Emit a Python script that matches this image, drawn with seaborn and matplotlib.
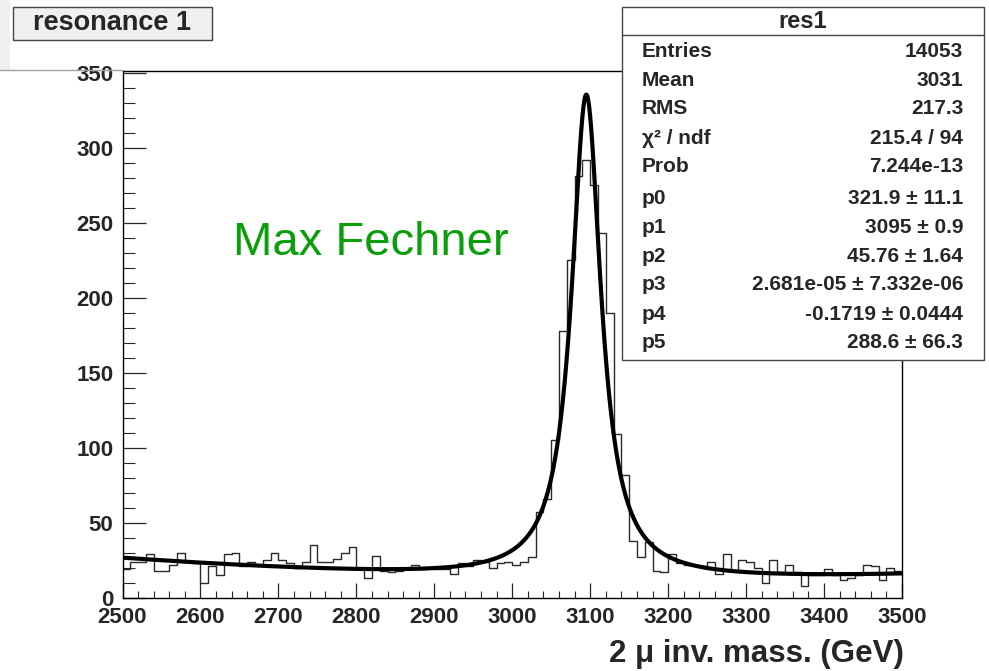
import numpy as np
import pandas as pd
import matplotlib
matplotlib.use("Agg")
import matplotlib.pyplot as plt
from matplotlib.patches import Rectangle
from matplotlib.lines import Line2D
import seaborn as sns

# ---------------- data ----------------
x_min, x_max, n_bins = 2500, 3500, 100
counts = [19, 24, 24, 29, 18, 18, 22, 30, 24, 23,
          10, 21, 15, 29, 30, 21, 24, 22, 25, 30,
          25, 23, 20, 24, 35, 24, 24, 26, 30, 34,
          19, 13, 28, 18, 17, 18, 19, 22, 19, 20,
          19, 19, 16, 23, 21, 25, 24, 20, 23, 24,
          22, 24, 27, 57, 66, 105, 178, 225, 281, 292,
          275, 243, 190, 109, 82, 38, 27, 37, 18, 17,
          29, 23, 22, 22, 21, 24, 16, 29, 18, 25,
          24, 20, 10, 25, 17, 22, 17, 8, 15, 15,
          19, 15, 12, 13, 15, 22, 21, 12, 20, 18]
# fit parameters shown in the stats box (Breit-Wigner + quadratic background)
fit_p = [321.9, 3095.0, 45.76, 2.681e-05, -0.1719, 288.6]
stat_labels = ["Entries", "Mean", "RMS", "\u03c7\u00b2 / ndf", "Prob",
               "p0", "p1", "p2", "p3", "p4", "p5"]
stat_values = ["14053", "3031", "217.3", "215.4 / 94", "7.244e-13",
               "321.9 \u00b1 11.1", "3095 \u00b1 0.9", "45.76 \u00b1 1.64",
               "2.681e-05 \u00b1 7.332e-06", "-0.1719 \u00b1 0.0444",
               "288.6 \u00b1 66.3"]
x_ticks = list(range(2500, 3501, 100))
y_ticks = list(range(0, 351, 50))

# ---------------- styling ----------------
sns.set_style("white")
plt.rcParams["font.family"] = ["Liberation Sans", "DejaVu Sans"]

W, H = 989, 671
fig = plt.figure(figsize=(W / 100, H / 100), dpi=100)
fig.patch.set_facecolor("white")

def fx(px):
    return px / W

def fy(py):
    return 1 - py / H

ax_l, ax_r, ax_t, ax_b = 122.5, 902, 71, 598
ax = fig.add_axes([fx(ax_l), fy(ax_b), (ax_r - ax_l) / W, (ax_b - ax_t) / H])
ax.set_facecolor("white")

bw = (x_max - x_min) / n_bins
centers = x_min + bw * (np.arange(n_bins) + 0.5)
df = pd.DataFrame({"mass": centers, "n": counts})
sns.histplot(data=df, x="mass", weights="n", bins=n_bins, binrange=(x_min, x_max),
             element="step", fill=False, color="#2a2a2a", linewidth=1.0, ax=ax)

xf = np.linspace(x_min, x_max, 3001)
p0, p1, p2, p3, p4, p5 = fit_p
hw = p2 / 2.0
yf = p0 * hw ** 2 / ((xf - p1) ** 2 + hw ** 2) + p3 * xf ** 2 + p4 * xf + p5
sns.lineplot(x=xf, y=yf, color="black", linewidth=3.0, ax=ax, zorder=5)

ax.set_xlim(x_min, x_max)
ax.set_ylim(0, 351)
ax.set_xticks(x_ticks)
ax.set_yticks(y_ticks)
ax.set_xticks(np.arange(x_min, x_max + 1, 20), minor=True)
ax.set_yticks(np.arange(0, 351, 10), minor=True)
ax.set_xlabel("")
ax.set_ylabel("")
for s in ax.spines.values():
    s.set_color("black")
    s.set_linewidth(1.0)
    s.set_visible(True)
ax.tick_params(axis="x", which="major", direction="in", length=10.8, width=0.9,
               pad=6.5, bottom=True, top=False)
ax.tick_params(axis="x", which="minor", direction="in", length=5.3, width=0.8,
               bottom=True, top=False)
ax.tick_params(axis="y", which="major", direction="in", length=16.5, width=0.9,
               pad=6.5, left=True, right=False)
ax.tick_params(axis="y", which="minor", direction="in", length=8.5, width=0.8,
               left=True, right=False)
ax.set_xticklabels([str(t) for t in x_ticks], fontweight="bold", fontsize=16)
ax.set_yticklabels([str(t) for t in y_ticks], fontweight="bold", fontsize=16)

# x-axis title
fig.text(fx(904), fy(654), "2 \u03bc inv. mass. (GeV)", ha="right", va="center",
         fontsize=22.5, fontweight="bold")

# green annotation
fig.text(fx(233), fy(255), "Max Fechner", ha="left", va="baseline",
         fontsize=34, color="#0a9e0a")

# top-left decoration
fig.patches.append(Rectangle((0, fy(70)), fx(10), 70 / H, transform=fig.transFigure,
                             facecolor="#f0f0f0", edgecolor="none", zorder=0))
fig.lines.append(Line2D([0, fx(122)], [fy(70), fy(70)], transform=fig.transFigure,
                        color="#a0a0a0", linewidth=1.0))

# title box
fig.patches.append(Rectangle((fx(12.7), fy(40)), (212 - 12.7) / W, (40 - 6.7) / H,
                             transform=fig.transFigure, facecolor="#f0f0f0",
                             edgecolor="#444444", linewidth=1.0, zorder=2))
fig.text(fx(112.3), fy(23.5), "resonance 1", ha="center", va="center",
         fontsize=19.5, fontweight="bold", zorder=4)

# stats box
sb_l, sb_r, sb_t, sb_b = 622, 984, 6.7, 360
fig.patches.append(Rectangle((fx(sb_l), fy(sb_b)), (sb_r - sb_l) / W, (sb_b - sb_t) / H,
                             transform=fig.transFigure, facecolor="white",
                             edgecolor="#444444", linewidth=1.0, zorder=2))
fig.lines.append(Line2D([fx(sb_l), fx(sb_r)], [fy(35), fy(35)], transform=fig.transFigure,
                        color="#444444", linewidth=1.0, zorder=3))
fig.text(fx((sb_l + sb_r) / 2), fy(21), "res1", ha="center", va="center",
         fontsize=17, fontweight="bold", zorder=4)
row_y = [51.7, 80.7, 109, 138, 167, 198, 227, 256, 285, 315, 343]
for lab, val, ry in zip(stat_labels, stat_values, row_y):
    fig.text(fx(641.7), fy(ry), lab, ha="left", va="center", fontsize=15,
             fontweight="bold", zorder=4)
    fig.text(fx(963.3), fy(ry), val, ha="right", va="center", fontsize=15,
             fontweight="bold", zorder=4)

fig.savefig("out.png", dpi=100)
